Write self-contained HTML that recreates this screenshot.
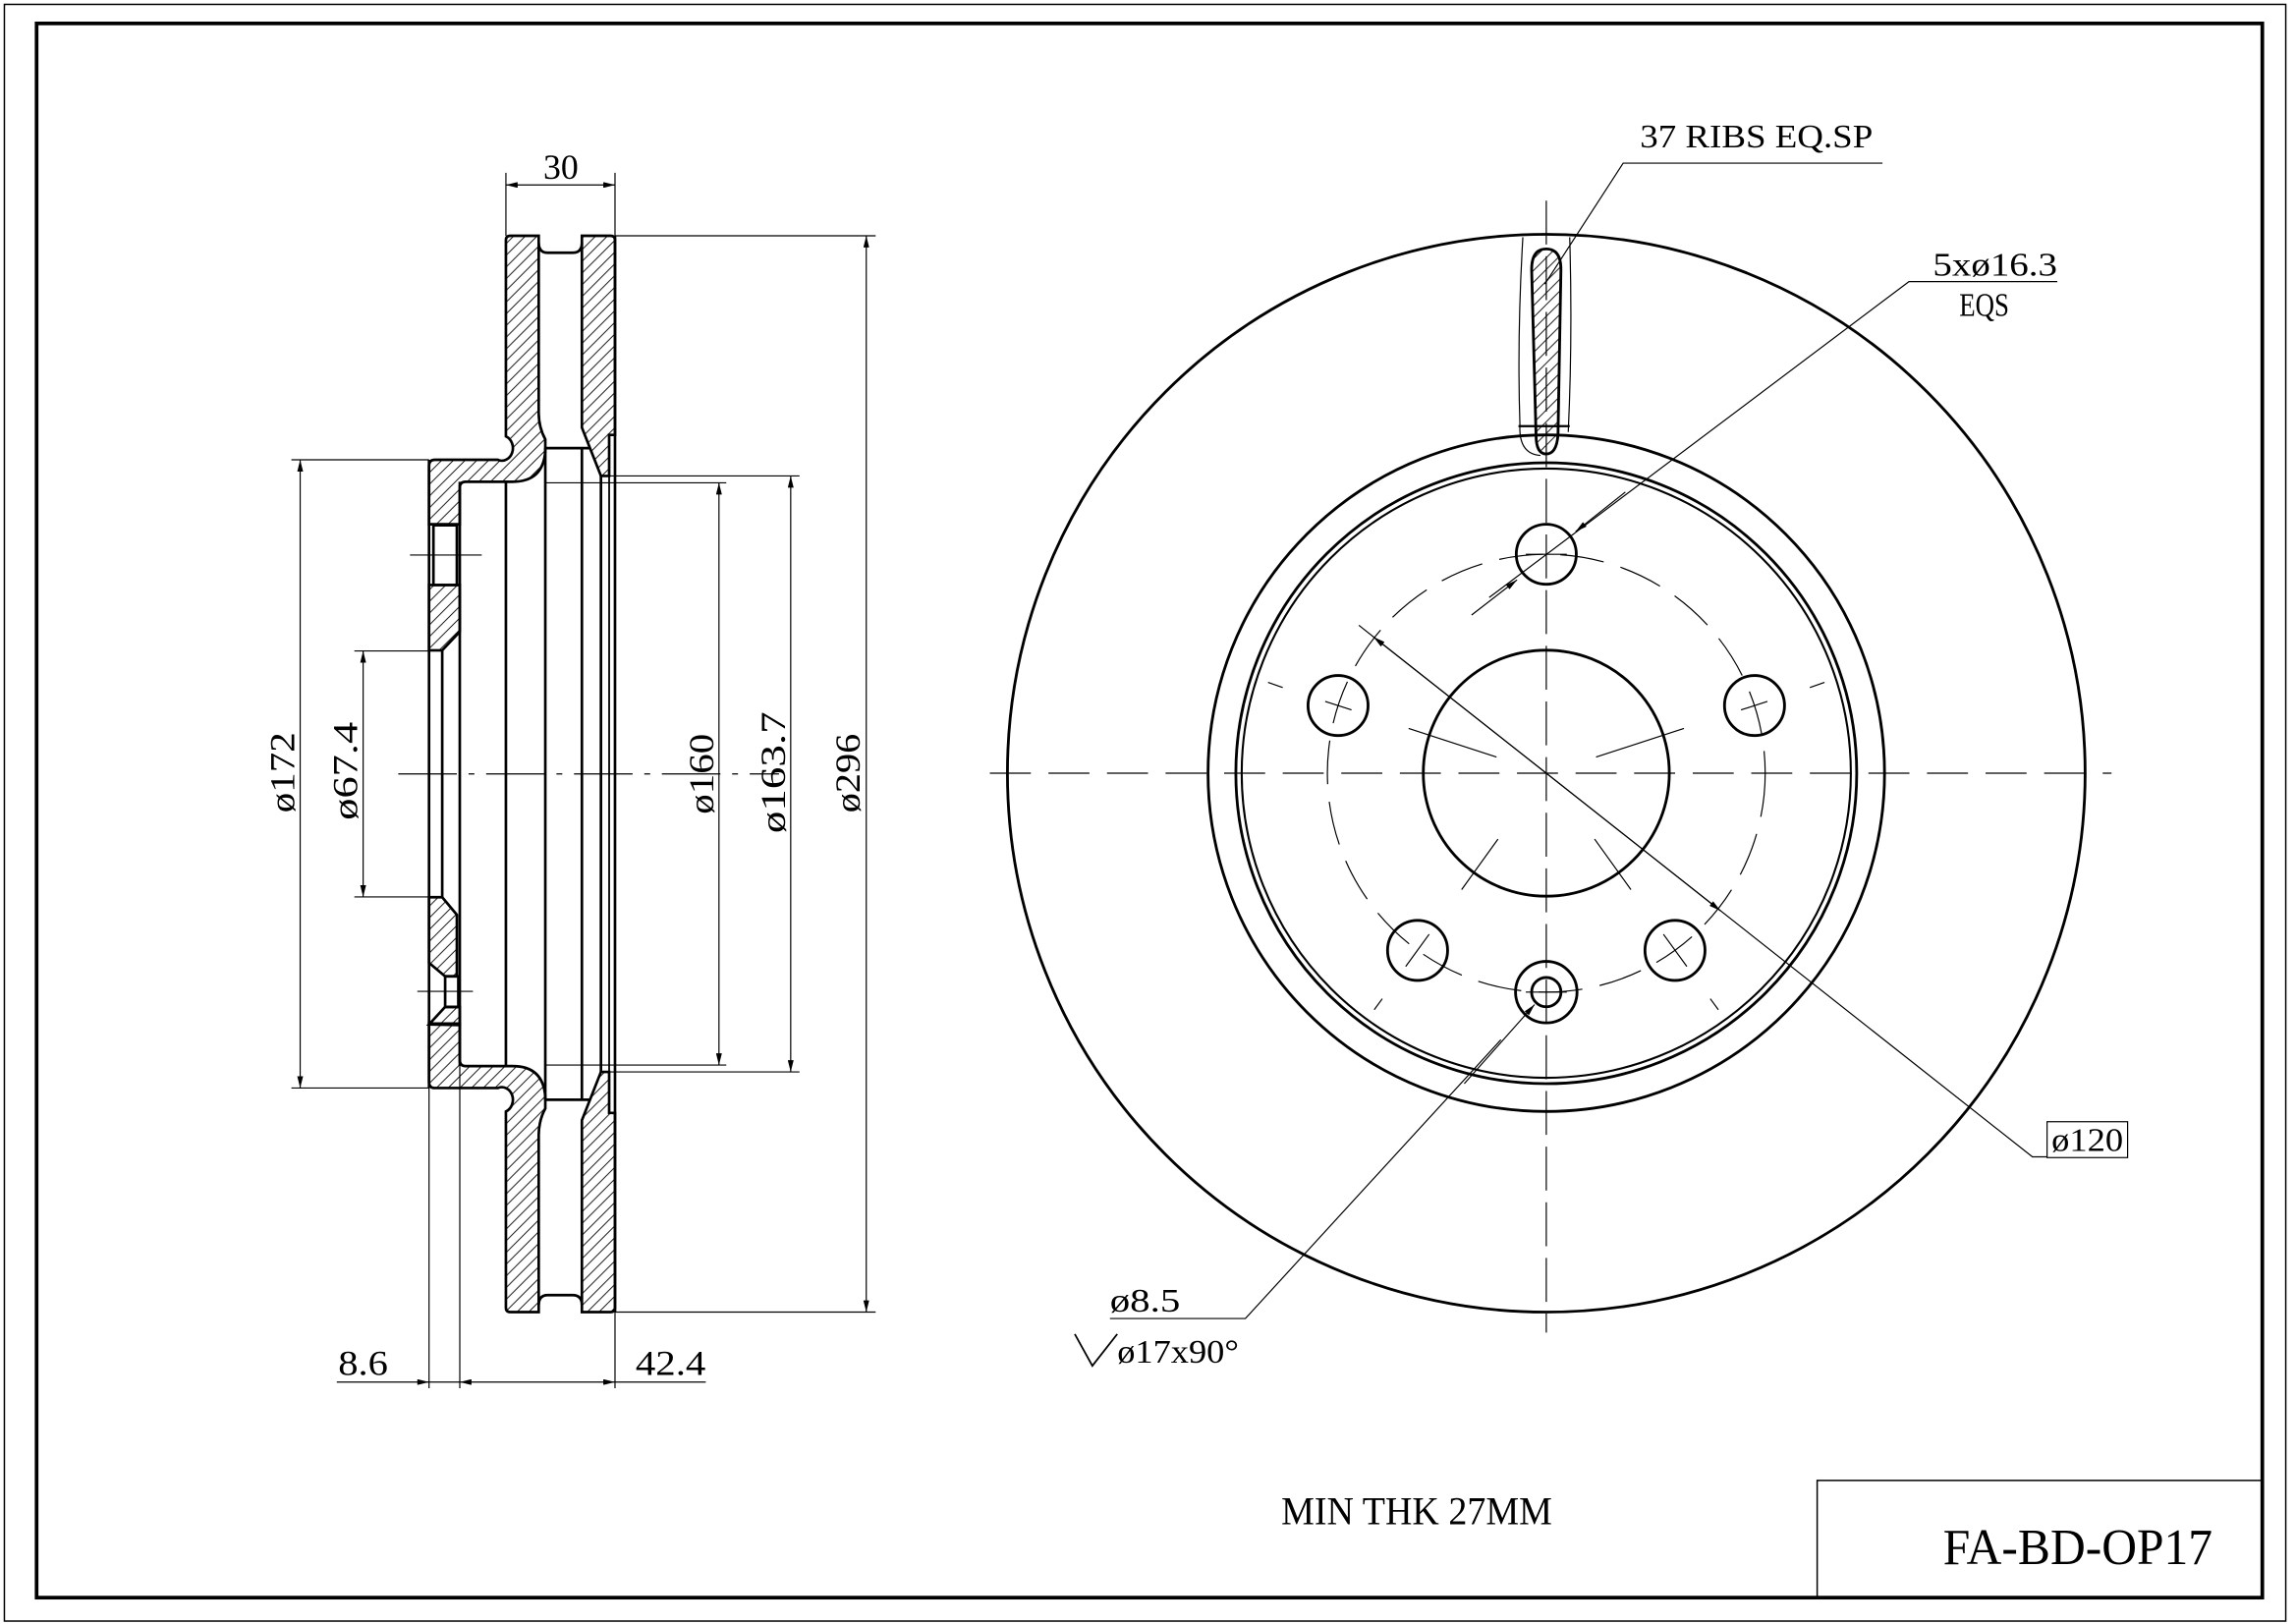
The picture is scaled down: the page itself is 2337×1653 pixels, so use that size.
<!DOCTYPE html>
<html><head><meta charset="utf-8"><style>
html,body{margin:0;padding:0;background:#fff}
svg{display:block}
text{font-family:"Liberation Serif","DejaVu Serif",serif;fill:#000}
</style></head><body>
<svg width="2337" height="1653" viewBox="0 0 1568 1109" preserveAspectRatio="none" xmlns="http://www.w3.org/2000/svg">
<defs>
<pattern id="hA" patternUnits="userSpaceOnUse" width="8" height="8"><path d="M-2,2 L2,-2 M0,8 L8,0 M6,10 L10,6" stroke="#000" stroke-width="0.6"/></pattern>
<pattern id="hB" patternUnits="userSpaceOnUse" width="8" height="8"><path d="M-2,6 L2,10 M0,0 L8,8 M6,-2 L10,2" stroke="#000" stroke-width="0.6"/></pattern>
<marker id="ar" viewBox="0 0 12 6" refX="12" refY="3" markerWidth="12" markerHeight="4" markerUnits="userSpaceOnUse" orient="auto-start-reverse"><path d="M0,0 L12,3 L0,6 Z" fill="#000"/></marker>
</defs>
<rect width="1568" height="1109" fill="#fff"/>
<!-- frames -->
<rect x="3" y="3" width="1558" height="1104" fill="none" stroke="#000" stroke-width="1"/>
<rect x="25" y="16" width="1520" height="1075" fill="none" stroke="#000" stroke-width="2.5"/>
<polyline points="1241,1091 1241,1011 1545,1011" fill="none" stroke="#000" stroke-width="1"/>
<text x="1327" y="1068" font-size="35" textLength="184" lengthAdjust="spacingAndGlyphs">FA-BD-OP17</text>
<text x="875" y="1041" font-size="27" textLength="185" lengthAdjust="spacingAndGlyphs">MIN THK 27MM</text>

<!-- LEFT SECTION -->
<g stroke="#000" fill="none">
 <g id="half" stroke-width="1.8">
  <path d="M293,318 Q293,314 297,314 L340,314 A7,8 0 0 0 345.5,298 L345.5,164 Q345.5,161 348.5,161 L367.9,161 L367.9,282 Q368,292 372.4,300 L372.4,308 Q371,329 350,329 L318,329 Q314,329 314,333 L314,358 L293,358 Z" fill="url(#hA)"/>
  <path d="M397.4,161 L417,161 Q420,161 420,164 L420,297 L416,297 L416,325 L410.4,325 L397.4,292 Z" fill="url(#hA)"/>
  <path d="M367.9,166 Q368,172.6 374,172.6 L391,172.6 Q397.4,172.6 397.4,166"/>
  <line x1="372.4" y1="306" x2="403" y2="306"/>
 </g>
 <g transform="translate(0,1057) scale(1,-1)" stroke-width="1.8">
  <path d="M293,318 Q293,314 297,314 L340,314 A7,8 0 0 0 345.5,298 L345.5,164 Q345.5,161 348.5,161 L367.9,161 L367.9,282 Q368,292 372.4,300 L372.4,308 Q371,329 350,329 L318,329 Q314,329 314,333 L314,358 L293,358 Z" fill="url(#hB)"/>
  <path d="M397.4,161 L417,161 Q420,161 420,164 L420,297 L416,297 L416,325 L410.4,325 L397.4,292 Z" fill="url(#hB)"/>
  <path d="M367.9,166 Q368,172.6 374,172.6 L391,172.6 Q397.4,172.6 397.4,166"/>
  <line x1="372.4" y1="306" x2="403" y2="306"/>
 </g>
 <g stroke-width="1.8">
  <line x1="345.5" y1="329" x2="345.5" y2="728"/>
  <line x1="372.4" y1="306" x2="372.4" y2="751"/>
  <line x1="397.4" y1="306" x2="397.4" y2="751"/>
  <line x1="410.4" y1="325" x2="410.4" y2="732"/>
  <line x1="416" y1="325" x2="416" y2="732" stroke-width="1.2"/>
  <line x1="420" y1="161" x2="420" y2="896"/>
  <line x1="314" y1="329" x2="314" y2="728"/>
  <line x1="293" y1="314" x2="293" y2="743"/>
  <line x1="302" y1="444" x2="302" y2="613"/>
  <!-- upper hub hole -->
  <rect x="296" y="358.7" width="16" height="40.8"/>
  <path d="M293,399.5 L314,399.5 L314,431.4 L302,444.1 L293,444.1 Z" fill="url(#hA)"/>
  <!-- lower hub -->
  <path d="M293,612.7 L302,612.7 L312,624.7 L312,666.7 L304,666.7 L293,657.5 Z" fill="url(#hA)"/>
  <rect x="304" y="666.7" width="9" height="21"/>
  <path d="M293,699.6 L304,687.6 L314,687.6 L314,700 Z" fill="url(#hA)"/>
 </g>
 <!-- centerlines -->
 <g stroke-width="0.8">
  <line x1="272" y1="528.5" x2="532" y2="528.5" stroke-dasharray="40 8 4 8"/>
  <line x1="280" y1="379" x2="329" y2="379"/>
  <line x1="285" y1="677" x2="323" y2="677"/>
 </g>
 <!-- dims -->
 <g stroke-width="0.8">
  <line x1="345.5" y1="118" x2="345.5" y2="161"/>
  <line x1="420" y1="118" x2="420" y2="161"/>
  <line x1="345.5" y1="126.3" x2="420" y2="126.3" marker-start="url(#ar)" marker-end="url(#ar)"/>
  <line x1="420" y1="161" x2="598" y2="161"/>
  <line x1="420" y1="896" x2="598" y2="896"/>
  <line x1="591.6" y1="161" x2="591.6" y2="896" marker-start="url(#ar)" marker-end="url(#ar)"/>
  <line x1="416" y1="325" x2="546" y2="325"/>
  <line x1="416" y1="732" x2="546" y2="732"/>
  <line x1="540" y1="325" x2="540" y2="732" marker-start="url(#ar)" marker-end="url(#ar)"/>
  <line x1="372" y1="329.7" x2="496" y2="329.7"/>
  <line x1="372" y1="727.3" x2="496" y2="727.3"/>
  <line x1="491" y1="329.7" x2="491" y2="727.3" marker-start="url(#ar)" marker-end="url(#ar)"/>
  <line x1="199" y1="314" x2="293" y2="314"/>
  <line x1="199" y1="743" x2="293" y2="743"/>
  <line x1="205" y1="314" x2="205" y2="743" marker-start="url(#ar)" marker-end="url(#ar)"/>
  <line x1="242" y1="444.5" x2="302" y2="444.5"/>
  <line x1="242" y1="612.5" x2="302" y2="612.5"/>
  <line x1="248" y1="444.5" x2="248" y2="612.5" marker-start="url(#ar)" marker-end="url(#ar)"/>
  <line x1="293" y1="743" x2="293" y2="948"/>
  <line x1="314" y1="728" x2="314" y2="948"/>
  <line x1="420" y1="896" x2="420" y2="948"/>
  <line x1="230" y1="943.8" x2="293" y2="943.8" marker-end="url(#ar)"/>
  <line x1="293" y1="943.8" x2="314" y2="943.8"/>
  <line x1="314" y1="943.8" x2="420" y2="943.8" marker-start="url(#ar)" marker-end="url(#ar)"/>
  <line x1="420" y1="943.8" x2="482" y2="943.8"/>
 </g>
</g>
<g font-size="24">
 <text x="371" y="122" textLength="24" lengthAdjust="spacingAndGlyphs">30</text>
 <text x="231" y="939" textLength="34" lengthAdjust="spacingAndGlyphs">8.6</text>
 <text x="434" y="939" textLength="48" lengthAdjust="spacingAndGlyphs">42.4</text>
 <text transform="translate(587,555) rotate(-90)" textLength="54" lengthAdjust="spacingAndGlyphs">ø296</text>
 <text transform="translate(536,569) rotate(-90)" textLength="83" lengthAdjust="spacingAndGlyphs">ø163.7</text>
 <text transform="translate(487,556) rotate(-90)" textLength="55" lengthAdjust="spacingAndGlyphs">ø160</text>
 <text transform="translate(201,555) rotate(-90)" textLength="55" lengthAdjust="spacingAndGlyphs">ø172</text>
 <text transform="translate(244,560) rotate(-90)" textLength="67" lengthAdjust="spacingAndGlyphs">ø67.4</text>
</g>

<!-- RIGHT VIEW -->
<g stroke="#000" fill="none">
 <g stroke-width="0.8">
  <line x1="676" y1="528" x2="1442" y2="528" stroke-dasharray="28 12"/>
  <line x1="1056" y1="137" x2="1056" y2="910" stroke-dasharray="30 8"/>
  <circle cx="1056" cy="528" r="149.5" stroke-dasharray="30 12"/>
 </g>
 <g stroke-width="1.9">
  <circle cx="1056" cy="528" r="368"/>
  <circle cx="1056" cy="528" r="231"/>
  <circle cx="1056" cy="528" r="212"/>
  <circle cx="1056" cy="528" r="208" stroke-width="1.4"/>
  <circle cx="1056" cy="528" r="84"/>
  <circle cx="1056" cy="378.5" r="20.5"/>
  <circle cx="1198.2" cy="481.8" r="20.5"/>
  <circle cx="913.8" cy="481.8" r="20.5"/>
  <circle cx="968.1" cy="649" r="20.5"/>
  <circle cx="1143.9" cy="649" r="20.5"/>
  <circle cx="1056" cy="677.5" r="21"/>
  <circle cx="1056" cy="677.5" r="10"/>
 </g>
 <!-- radial ticks -->
 <g stroke-width="0.8">
  <path d="M1150,497.4 L1090,517 M1246,466 L1236,469.5 M1207,479 L1189,484.8"/>
  <path d="M962,497.4 L1022,517 M866,466 L876,469.5 M905,479 L923,484.8"/>
  <path d="M998.2,607.5 L1023,573 M938.5,689.5 L944,682 M960,660 L976,638"/>
  <path d="M1113.8,607.5 L1089,573 M1173.5,689.5 L1168,682 M1152,660 L1136,638"/>
  <path d="M1042,378.5 L1070,378.5 M1042,677.5 L1070,677.5"/>
 </g>
 <!-- rib slot -->
 <path d="M1040,162 Q1036,230 1038,290 Q1037,310 1052,311" stroke-width="0.8"/>
 <path d="M1072,162 Q1074,230 1071,295" stroke-width="0.8"/>
 <line x1="1037" y1="291" x2="1072" y2="291" stroke-width="1.5"/>
 <path d="M1046,184 Q1046,170 1056,170 Q1066,170 1066,184 L1064,297 Q1063,310 1056,310 Q1049,310 1049,297 Z" fill="url(#hA)" stroke-width="1.9"/>
 <!-- leaders -->
 <g stroke-width="0.8">
  <path d="M1285.6,111.4 L1108.5,111.4 L1055,194"/>
  <path d="M1405,192.3 L1303.7,192.3 L1017,408"/>
  <line x1="1110" y1="336" x2="1076" y2="363" marker-end="url(#ar)"/>
  <line x1="1005" y1="420" x2="1036" y2="396" marker-end="url(#ar)"/>
  <path d="M928,427 L1388,790 L1398,790"/>
  <line x1="1056" y1="528" x2="938" y2="435" marker-end="url(#ar)"/>
  <line x1="1056" y1="528" x2="1175" y2="622" marker-end="url(#ar)"/>
  <path d="M758,900.4 L850.5,900.4 L1025,710"/>
  <line x1="1000" y1="740" x2="1048" y2="686" marker-end="url(#ar)"/>
  <rect x="1398" y="766" width="55" height="24.5"/>
  <path d="M734,911 L746,932.7 L763,911" stroke-width="1.2"/>
 </g>
</g>
<g font-size="23">
 <text x="1120" y="100.6" textLength="159" lengthAdjust="spacingAndGlyphs">37 RIBS EQ.SP</text>
 <text x="1320" y="188.3" textLength="85" lengthAdjust="spacingAndGlyphs">5xø16.3</text>
 <text x="1338" y="215.8" textLength="34" lengthAdjust="spacingAndGlyphs">EQS</text>
 <text x="1401" y="786" textLength="49" lengthAdjust="spacingAndGlyphs">ø120</text>
 <text x="758" y="895.7" textLength="48" lengthAdjust="spacingAndGlyphs">ø8.5</text>
 <text x="763" y="930.4" textLength="83" lengthAdjust="spacingAndGlyphs">ø17x90°</text>
</g>
</svg>
</body></html>
